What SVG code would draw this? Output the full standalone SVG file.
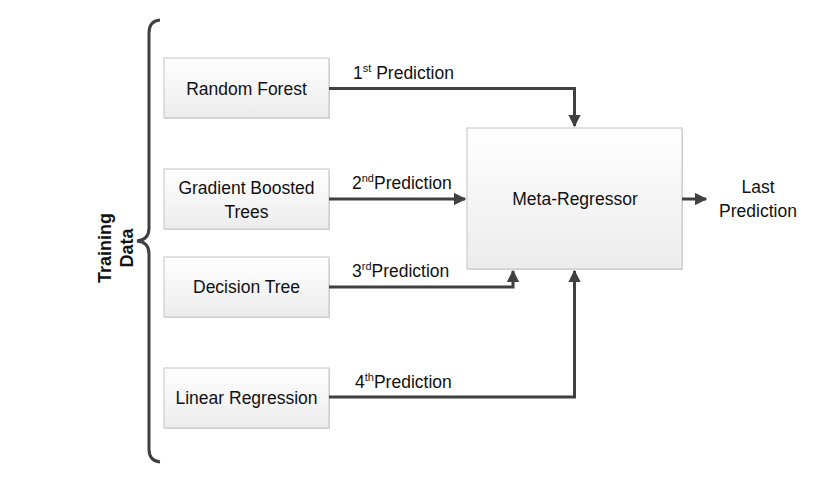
<svg xmlns="http://www.w3.org/2000/svg" width="830" height="483" viewBox="0 0 830 483">
<defs>
<linearGradient id="g" x1="0" y1="0" x2="0" y2="1">
<stop offset="0" stop-color="#ffffff"/>
<stop offset="1" stop-color="#ececec"/>
</linearGradient>
<marker id="ah" viewBox="0 0 10 10" refX="9" refY="5" markerWidth="4.2" markerHeight="4.2" orient="auto" markerUnits="strokeWidth">
<path d="M0,0 L10,5 L0,10 z" fill="#404040"/>
</marker>
</defs>
<style>
.box{fill:url(#g);stroke:#c4c4c4;stroke-width:1}
.sh{fill:#dcdcdc}
.t{font-family:"Liberation Sans",Arial,sans-serif;font-size:17.5px;fill:#111;text-anchor:middle}
.l{font-family:"Liberation Sans",Arial,sans-serif;font-size:17.5px;fill:#111}
.b{font-weight:bold;font-size:18px}
.c{fill:none;stroke:#404040;stroke-width:3}
.sup{font-size:11px}
</style>
<rect width="830" height="483" fill="#fff"/>
<g id="brace">
<path d="M160,20 Q149,21 149,33 L149,228 Q149,240 137,241 Q149,242 149,254 L149,449 Q149,461 160,462" fill="none" stroke="#404040" stroke-width="3"/>
<text transform="translate(111,248) rotate(-90)" class="t b">Training</text>
<text transform="translate(133,248) rotate(-90)" class="t b">Data</text>
</g>
<g id="rf">
<rect x="165" y="59" width="165" height="60" class="sh"/>
<rect x="164" y="58" width="165" height="60" class="box"/>
<text x="246.5" y="95" class="t">Random Forest</text>
</g>
<g id="gbt">
<rect x="165" y="170" width="165" height="60" class="sh"/>
<rect x="164" y="169" width="165" height="60" class="box"/>
<text x="246.5" y="194" class="t">Gradient Boosted</text>
<text x="246.5" y="218" class="t">Trees</text>
</g>
<g id="dt">
<rect x="165" y="258" width="165" height="60" class="sh"/>
<rect x="164" y="257" width="165" height="60" class="box"/>
<text x="246.5" y="293" class="t">Decision Tree</text>
</g>
<g id="lr">
<rect x="165" y="369" width="165" height="60" class="sh"/>
<rect x="164" y="368" width="165" height="60" class="box"/>
<text x="246.5" y="404" class="t">Linear Regression</text>
</g>
<g id="meta">
<rect x="468" y="129" width="215" height="141" class="sh"/>
<rect x="467" y="128" width="215" height="141" class="box"/>
<text x="575" y="205" class="t">Meta-Regressor</text>
</g>
<g id="out">
<text x="758" y="193" class="t">Last</text>
<text x="758" y="217" class="t">Prediction</text>
</g>
<g id="connectors">
<path d="M329,88.5 L574.5,88.5 L574.5,126" class="c" marker-end="url(#ah)"/>
<path d="M329,199 L465,199" class="c" marker-end="url(#ah)"/>
<path d="M329,287 L513,287 L513,271" class="c" marker-end="url(#ah)"/>
<path d="M329,397 L574.5,397 L574.5,271" class="c" marker-end="url(#ah)"/>
<path d="M682,199 L706,199" class="c" marker-end="url(#ah)"/>
<text x="353" y="79" class="l">1<tspan class="sup" dy="-7">st</tspan><tspan dy="7"> Prediction</tspan></text>
<text x="352" y="189" class="l">2<tspan class="sup" dy="-7">nd</tspan><tspan dy="7">Prediction</tspan></text>
<text x="352" y="277" class="l">3<tspan class="sup" dy="-7">rd</tspan><tspan dy="7">Prediction</tspan></text>
<text x="355" y="388" class="l">4<tspan class="sup" dy="-7">th</tspan><tspan dy="7">Prediction</tspan></text>
</g>
</svg>
